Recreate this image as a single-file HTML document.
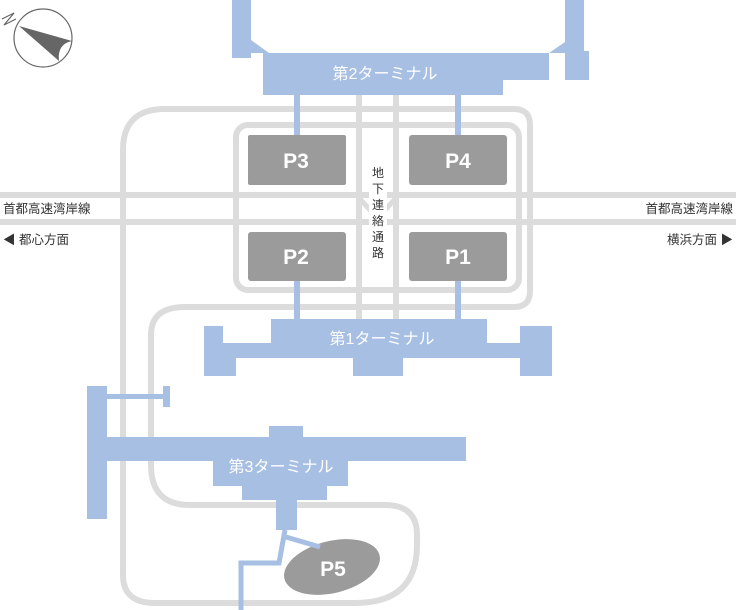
<!DOCTYPE html>
<html><head><meta charset="utf-8"><style>
html,body{margin:0;padding:0;background:#fff;width:736px;height:610px;overflow:hidden}
svg{display:block}
text{font-family:"Liberation Sans","Noto Sans CJK JP",sans-serif}
</style></head><body>
<svg width="736" height="610" viewBox="0 0 736 610" xmlns="http://www.w3.org/2000/svg">
<g fill="none" stroke="#dcdcdc" stroke-width="6">
 <line x1="0" y1="195" x2="736" y2="195"/>
 <line x1="0" y1="222" x2="736" y2="222"/>
 <path d="M514,109 L165,109 Q123,109 123,150 L123,575 Q123,603 155,603 L355,603 Q417,603 417,545 L417,535 Q417,505 385,505 L190,505 Q151,505 151,465 L151,335 Q151,307 185,307 L514,307 Q530,307 530,291 L530,125 Q530,109 514,109 Z"/>
 <rect x="236" y="125" width="283" height="165" rx="12"/>
 <line x1="359" y1="95" x2="359" y2="320"/>
 <line x1="396" y1="95" x2="396" y2="320"/>
 <path d="M359,198 L372,212 M396,198 L383,212" stroke-width="5"/>
</g>
<g fill="#9b9b9b">
 <rect x="248" y="135" width="98" height="50" rx="2"/>
 <rect x="409" y="135" width="98" height="50" rx="3"/>
 <rect x="248" y="232" width="98" height="49" rx="3"/>
 <rect x="409" y="232" width="98" height="49" rx="3"/>
 <ellipse cx="332" cy="567" rx="49" ry="26" transform="rotate(-14 332 567)"/>
</g>
<g fill="#fff" font-size="21" font-weight="bold" text-anchor="middle">
 <text x="296" y="168">P3</text>
 <text x="458" y="168">P4</text>
 <text x="296" y="264">P2</text>
 <text x="458" y="264">P1</text>
 <text x="333" y="576">P5</text>
</g>
<rect x="369" y="163" width="18" height="100" fill="#fff" rx="6"/>
<g font-size="12" fill="#333" text-anchor="middle">
 <text x="378" y="177">地</text>
 <text x="378" y="193">下</text>
 <text x="378" y="209">連</text>
 <text x="378" y="225">絡</text>
 <text x="378" y="241">通</text>
 <text x="378" y="257">路</text>
</g>
<g fill="#a6bfe3">
 <rect x="232" y="0" width="19" height="58"/>
 <polygon points="251,40 269,53 251,53"/>
 <rect x="263" y="53" width="286" height="27"/>
 <rect x="263" y="53" width="240" height="42"/>
 <polygon points="549,53 565,42 565,53"/>
 <rect x="565" y="0" width="19" height="80"/>
 <rect x="584" y="51" width="5" height="29"/>
 <rect x="294" y="95" width="6" height="40"/>
 <rect x="455" y="95" width="6" height="40"/>
 <rect x="294" y="281" width="6" height="40"/>
 <rect x="455" y="281" width="6" height="40"/>
 <rect x="271" y="319" width="216" height="39"/>
 <rect x="204" y="326" width="19" height="50"/>
 <rect x="204" y="343" width="348" height="15"/>
 <rect x="204" y="358" width="32" height="18"/>
 <rect x="353" y="358" width="50" height="18"/>
 <rect x="520" y="326" width="32" height="50"/>
 <rect x="87" y="386" width="20" height="133"/>
 <rect x="107" y="394" width="58" height="5"/>
 <rect x="163" y="386" width="7" height="21"/>
 <rect x="107" y="437" width="359" height="24"/>
 <rect x="269" y="426" width="34" height="11"/>
 <rect x="213" y="461" width="135" height="25"/>
 <rect x="242" y="486" width="85" height="14"/>
 <rect x="276" y="500" width="21" height="30"/>
</g>
<g fill="none" stroke="#a6bfe3" stroke-width="5">
 <path d="M285,530 L279,563 L241,563 L241,610"/>
 <path d="M286,537 L320,547"/>
</g>
<g fill="#fff" font-size="16" text-anchor="middle">
 <text x="385" y="79">第2ターミナル</text>
 <text x="382" y="344">第1ターミナル</text>
 <text x="281" y="472">第3ターミナル</text>
</g>
<g font-size="12.5" fill="#333">
 <text x="3" y="213">首都高速湾岸線</text>
 <text x="733" y="213" text-anchor="end">首都高速湾岸線</text>
 <text x="3" y="244">◀ 都心方面</text>
 <text x="733" y="244" text-anchor="end">横浜方面 ▶</text>
</g>
<circle cx="43" cy="38" r="29" fill="#fff" stroke="#666" stroke-width="1.2"/>
<path d="M19,26 L72,41 Q57,44 59,61 Z" fill="#666"/>
<path d="M2,19 L14,13 L4,25 L16,19" fill="none" stroke="#666" stroke-width="1.2"/>
</svg>
</body></html>
